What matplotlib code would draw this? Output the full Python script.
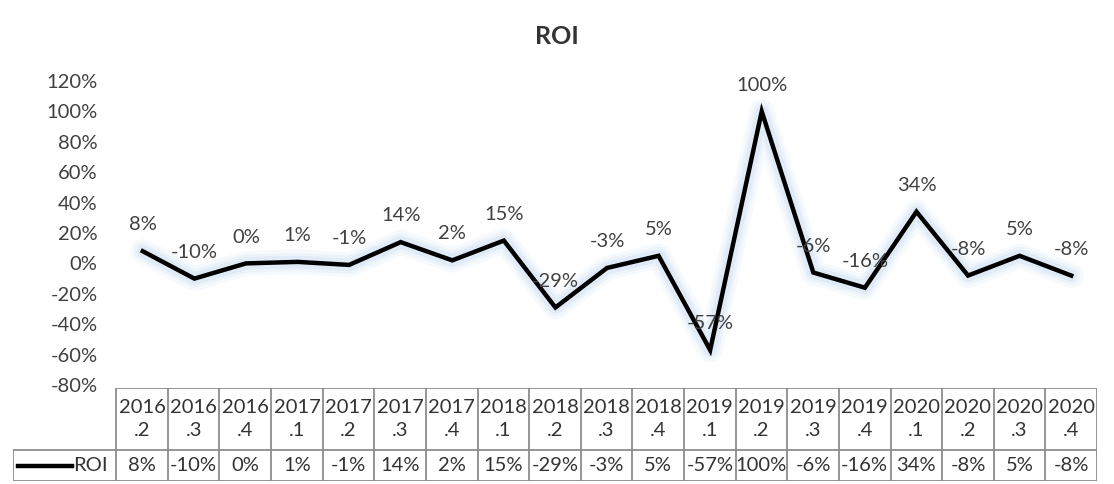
import numpy as np
import matplotlib.pyplot as plt

plt.rcParams['font.family'] = ['Lato', 'DejaVu Sans']

# Data
quarters = ['2016\n.2', '2016\n.3', '2016\n.4', '2017\n.1', '2017\n.2', '2017\n.3', '2017\n.4',
            '2018\n.1', '2018\n.2', '2018\n.3', '2018\n.4', '2019\n.1', '2019\n.2', '2019\n.3',
            '2019\n.4', '2020\n.1', '2020\n.2', '2020\n.3', '2020\n.4']
roi = [0.08, -0.10, 0.00, 0.01, -0.01, 0.14, 0.02, 0.15, -0.29, -0.03, 0.05, -0.57,
       1.00, -0.06, -0.16, 0.34, -0.08, 0.05, -0.08]
yticks = [-0.8, -0.6, -0.4, -0.2, 0.0, 0.2, 0.4, 0.6, 0.8, 1.0, 1.2]

W, H = 1114, 484
fig = plt.figure(figsize=(W / 100, H / 100), dpi=100)

# plot area in pixels
left_px, right_px = 117, 1097
top_px, bot_px = 81, 385
ax = fig.add_axes([left_px / W, 1 - bot_px / H, (right_px - left_px) / W, (bot_px - top_px) / H])

x = np.arange(len(roi))
# soft blue glow under the line
for lw, a in [(18, 0.12), (13, 0.2), (9, 0.3)]:
    ax.plot(x, roi, color='#c5dbf2', lw=lw, alpha=a, solid_joinstyle='round', solid_capstyle='round')
ax.plot(x, roi, color='black', lw=3.2, solid_joinstyle='miter')

for xi, v in zip(x, roi):
    ax.annotate(f'{v * 100:.0f}%', (xi, v), xytext=(0, 19), textcoords='offset points',
                ha='center', va='center', fontsize=14.5, color='#404040')

ax.set_xlim(-0.5, len(roi) - 0.5)
ax.set_ylim(-0.8, 1.2)
ax.set_yticks(yticks)
ax.set_yticklabels([f'{t * 100:.0f}%' for t in yticks], fontsize=14.5, color='#404040')
ax.set_xticks([])
ax.tick_params(axis='y', length=0, pad=14)
for s in ax.spines.values():
    s.set_visible(False)

fig.text(557 / W, 1 - 36 / H, 'ROI', ha='center', va='center', fontsize=18,
         fontweight='bold', color='#333333')

# Data table below the plot
tax = fig.add_axes([13 / W, 1 - 481 / H, (right_px - 13) / W, (481 - 388) / H])
ncol = len(roi)
legw = 2.0
tax.set_xlim(-0.5 - legw, ncol - 0.5)
tax.set_ylim(0, 3)
tax.axis('off')
line_kw = dict(color='#8c8c8c', lw=1.3)
# header row spans data columns only
tax.plot([-0.5, ncol - 0.5], [3, 3], **line_kw)
tax.plot([-0.5 - legw, ncol - 0.5], [1, 1], **line_kw)
tax.plot([-0.5 - legw, ncol - 0.5], [0, 0], **line_kw)
for i in range(ncol + 1):
    tax.plot([i - 0.5, i - 0.5], [0, 3], **line_kw)
tax.plot([-0.5 - legw, -0.5 - legw], [0, 1], **line_kw)

for i, (q, v) in enumerate(zip(quarters, roi)):
    tax.text(i, 2.0, q, ha='center', va='center', fontsize=14.5, color='#333333', linespacing=1.4)
    tax.text(i, 0.5, f'{v * 100:.0f}%', ha='center', va='center', fontsize=14.5, color='#333333')

# legend key
tax.plot([-0.5 - legw + 0.1, -0.5 - legw + 1.15], [0.5, 0.5], color='black', lw=3.2)
tax.text(-0.5 - legw + 1.17, 0.5, 'ROI', ha='left', va='center', fontsize=14.5, color='#333333')

fig.savefig('out.png', dpi=100)
